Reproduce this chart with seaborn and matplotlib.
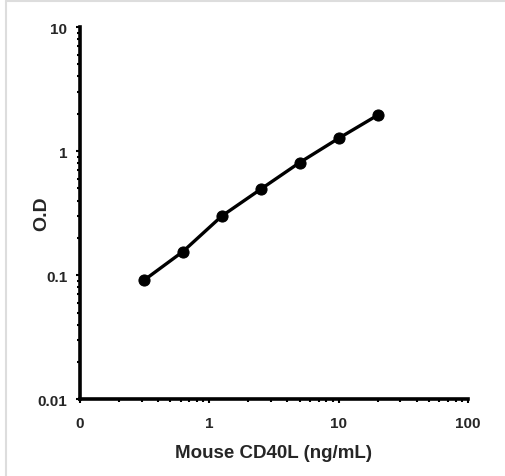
import seaborn as sns
import matplotlib.pyplot as plt
import matplotlib.ticker as mticker
import pandas as pd

concentration = [0.3125, 0.625, 1.25, 2.5, 5, 10, 20]
od = [0.091, 0.155, 0.30, 0.494, 0.81, 1.27, 1.95]
x_ticks = [0.1, 1, 10, 100]
x_tick_labels = ["0", "1", "10", "100"]
y_ticks = [0.01, 0.1, 1, 10]
y_tick_labels = ["0.01", "0.1", "1", "10"]

sns.set_style("white")
plt.rcParams["font.family"] = ["Liberation Sans", "DejaVu Sans"]

df = pd.DataFrame({"conc": concentration, "od": od})

fig = plt.figure(figsize=(5.06, 4.77), dpi=100)
ax = fig.add_axes([0.158, 0.161, 0.767, 0.780])

sns.lineplot(data=df, x="conc", y="od", ax=ax, color="black", linewidth=2.4,
             marker="o", markersize=8, markeredgecolor="black")

ax.set_xscale("log")
ax.set_yscale("log")
ax.set_xlim(0.1, 100)
ax.set_ylim(0.01, 10)

ax.xaxis.set_major_locator(mticker.FixedLocator(x_ticks))
ax.set_xticklabels(x_tick_labels)
ax.yaxis.set_major_locator(mticker.FixedLocator(y_ticks))
ax.set_yticklabels(y_tick_labels)
ax.xaxis.set_minor_locator(mticker.LogLocator(base=10, subs=range(2, 10)))
ax.yaxis.set_minor_locator(mticker.LogLocator(base=10, subs=range(2, 10)))
ax.xaxis.set_minor_formatter(mticker.NullFormatter())
ax.yaxis.set_minor_formatter(mticker.NullFormatter())

ax.tick_params(which="both", direction="out", color="black", width=1.5,
               bottom=True, left=True)
ax.tick_params(which="major", length=3, labelsize=11)
ax.tick_params(axis="x", which="major", pad=9)
ax.tick_params(axis="y", which="major", pad=6)
ax.tick_params(which="minor", length=2)
for lab in ax.get_xticklabels() + ax.get_yticklabels():
    lab.set_fontweight("bold")
    lab.set_family("Liberation Sans")

for side in ["top", "right"]:
    ax.spines[side].set_visible(False)
for side in ["left", "bottom"]:
    ax.spines[side].set_linewidth(2.6)
    ax.spines[side].set_color("black")

ax.set_xlabel("Mouse CD40L (ng/mL)", fontsize=13.5, fontweight="bold",
              family="Liberation Sans")
ax.set_ylabel("O.D", fontsize=14, fontweight="bold",
              family="Liberation Sans")
ax.xaxis.set_label_coords(0.5, -0.12)
ax.yaxis.set_label_coords(-0.076, 0.5)

# light frame of the original screenshot
fig.add_artist(plt.Line2D([0.012, 0.012], [0, 0.996], color="#dddddd", linewidth=1.5))
fig.add_artist(plt.Line2D([0.012, 1.0], [0.996, 0.996], color="#dddddd", linewidth=1.5))

fig.savefig("out.png", dpi=100)
plt.close(fig)
